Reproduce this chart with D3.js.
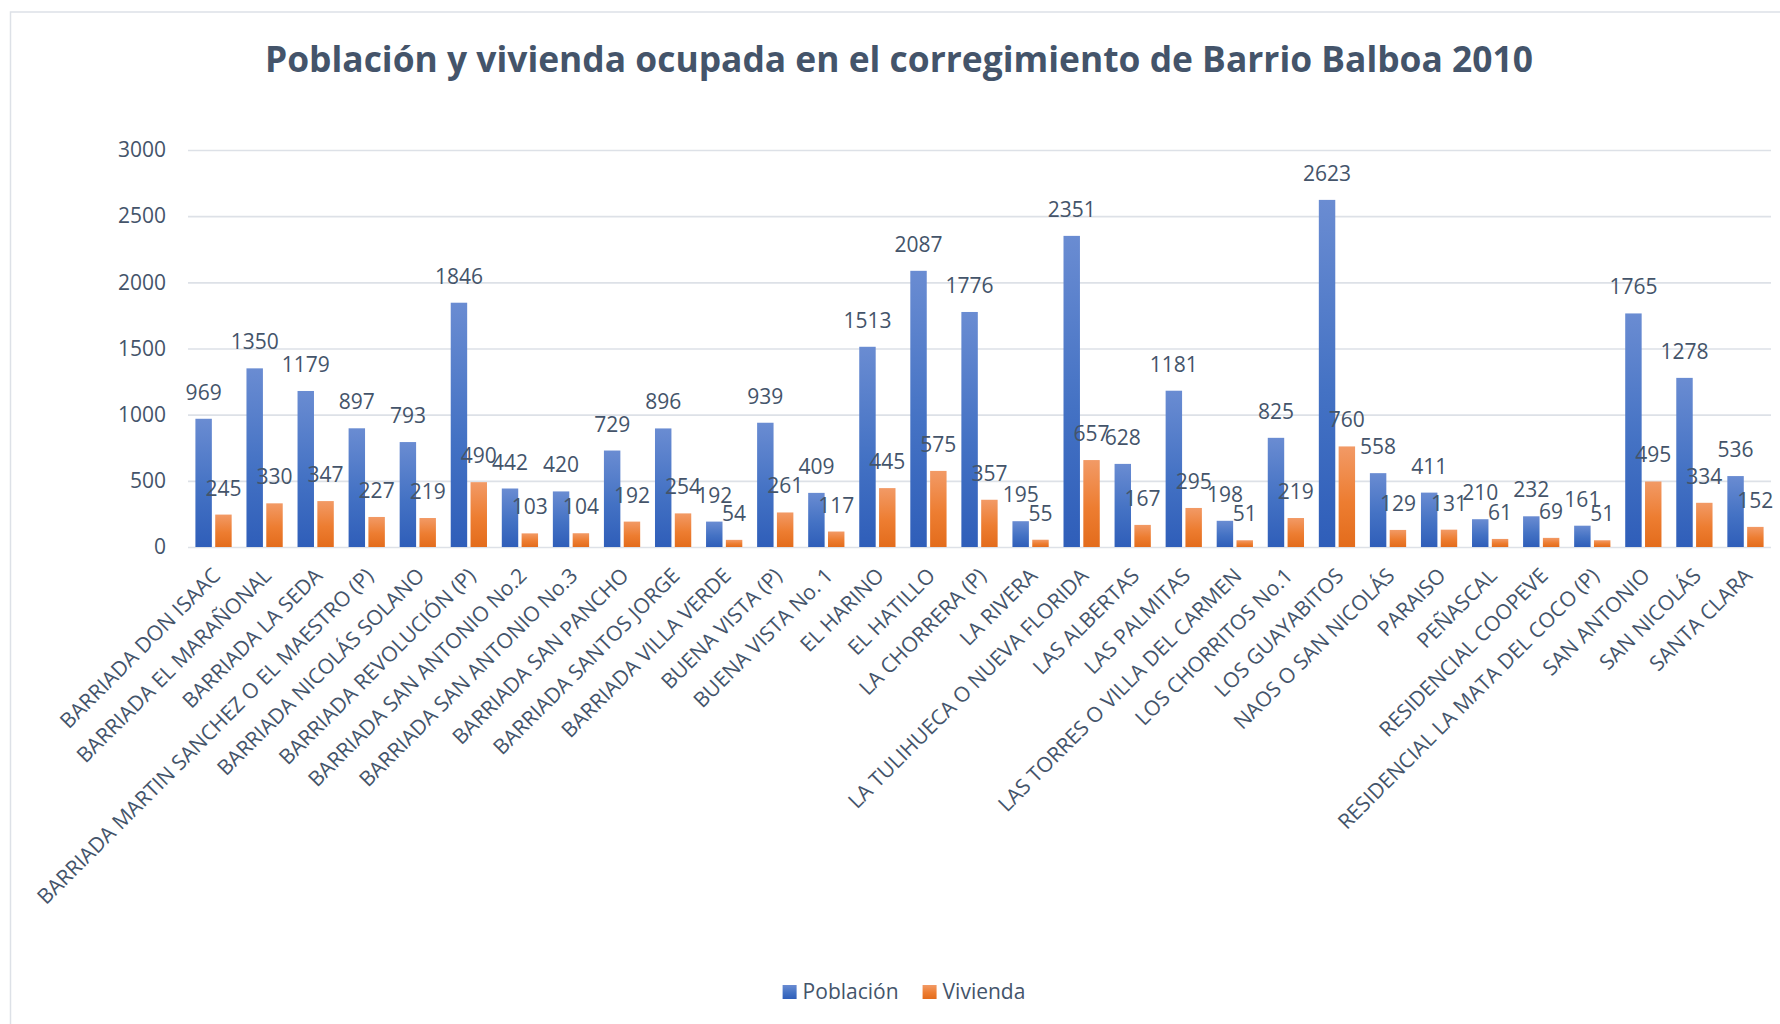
<!DOCTYPE html>
<html>
<head>
<meta charset="utf-8">
<script src="https://cdn.jsdelivr.net/npm/d3@7"></script>
<style>
  body { margin: 0; background: #fff; }
  text { font-family: "Open Sans", sans-serif; fill: #44546A; }
</style>
</head>
<body>
<svg id="chart" width="1780" height="1024"></svg>
<script>
var categories = [
  "BARRIADA DON ISAAC", "BARRIADA EL MARAÑONAL", "BARRIADA LA SEDA",
  "BARRIADA MARTIN SANCHEZ O EL MAESTRO (P)", "BARRIADA NICOLÁS SOLANO",
  "BARRIADA REVOLUCIÓN (P)", "BARRIADA SAN ANTONIO No.2", "BARRIADA SAN ANTONIO No.3",
  "BARRIADA SAN PANCHO", "BARRIADA SANTOS JORGE", "BARRIADA VILLA VERDE",
  "BUENA VISTA (P)", "BUENA VISTA No. 1", "EL HARINO", "EL HATILLO",
  "LA CHORRERA (P)", "LA RIVERA", "LA TULIHUECA O NUEVA FLORIDA", "LAS ALBERTAS",
  "LAS PALMITAS", "LAS TORRES O VILLA DEL CARMEN", "LOS CHORRITOS No.1",
  "LOS GUAYABITOS", "NAOS O SAN NICOLÁS", "PARAISO", "PEÑASCAL",
  "RESIDENCIAL COOPEVE", "RESIDENCIAL LA MATA DEL COCO (P)", "SAN ANTONIO",
  "SAN NICOLÁS", "SANTA CLARA"
];
var poblacion = [969, 1350, 1179, 897, 793, 1846, 442, 420, 729, 896, 192, 939, 409, 1513, 2087,
  1776, 195, 2351, 628, 1181, 198, 825, 2623, 558, 411, 210, 232, 161, 1765, 1278, 536];
var vivienda = [245, 330, 347, 227, 219, 490, 103, 104, 192, 254, 54, 261, 117, 445, 575,
  357, 55, 657, 167, 295, 51, 219, 760, 129, 131, 61, 69, 51, 495, 334, 152];
var yTicks = [0, 500, 1000, 1500, 2000, 2500, 3000];
var seriesNames = ["Población", "Vivienda"];
var title = "Población y vivienda ocupada en el corregimiento de Barrio Balboa 2010";

var svg = d3.select("#chart");
var plotLeft = 188, plotRight = 1771, plotTop = 150, plotBottom = 547;

// chart area border
svg.append("rect")
  .attr("x", 10.5).attr("y", 12)
  .attr("width", 1800).attr("height", 1100)
  .attr("fill", "none")
  .attr("stroke", "#DDE1E7")
  .attr("stroke-width", 1.5);

var defs = svg.append("defs");
var gradStops = [
  ["#6A8CD2", "#4472C4", "#2F5EB9"],
  ["#F29A66", "#ED7D31", "#E36C1C"]
];
gradStops.forEach(function(s, i) {
  var g = defs.append("linearGradient")
    .attr("id", "grad" + i)
    .attr("x1", 0).attr("y1", 0).attr("x2", 0).attr("y2", 1);
  g.append("stop").attr("offset", "0%").attr("stop-color", s[0]);
  g.append("stop").attr("offset", "55%").attr("stop-color", s[1]);
  g.append("stop").attr("offset", "100%").attr("stop-color", s[2]);
});

var x = d3.scaleBand()
  .domain(categories)
  .range([plotLeft, plotRight])
  .paddingInner(0.29)
  .paddingOuter(0.145);

var xSub = d3.scaleBand()
  .domain([0, 1])
  .range([0, x.bandwidth()])
  .paddingInner(0.17);

var y = d3.scaleLinear()
  .domain([0, 3000])
  .range([plotBottom, plotTop]);

// gridlines + y labels
var yAxis = svg.append("g")
  .attr("transform", "translate(" + plotLeft + ",0)")
  .call(d3.axisLeft(y).tickValues(yTicks).tickFormat(d3.format("d"))
    .tickSize(-(plotRight - plotLeft)).tickPadding(22));
yAxis.select(".domain").remove();
yAxis.selectAll(".tick line")
  .attr("stroke", "#DDE1E7")
  .attr("stroke-width", 1.6);
yAxis.selectAll(".tick text")
  .attr("font-size", 21)
  .attr("font-family", "Open Sans")
  .attr("fill", "#44546A");

// x labels
var xAxis = svg.append("g")
  .attr("transform", "translate(0," + plotBottom + ")")
  .call(d3.axisBottom(x).tickSize(0));
xAxis.select(".domain").remove();
xAxis.selectAll(".tick text")
  .attr("font-size", 21)
  .attr("font-family", "Open Sans")
  .attr("fill", "#44546A")
  .attr("text-anchor", "end")
  .attr("x", 0).attr("y", 0).attr("dy", null)
  .attr("transform", "translate(8,30) rotate(-45)");

var series = [poblacion, vivienda];

var groups = svg.selectAll(".cat")
  .data(categories)
  .enter()
  .append("g")
  .attr("class", "cat")
  .attr("transform", function(d) { return "translate(" + x(d) + ",0)"; });

groups.selectAll("rect")
  .data(function(d, i) { return series.map(function(s, k) { return {k: k, v: s[i]}; }); })
  .enter()
  .append("rect")
  .attr("x", function(d) { return xSub(d.k); })
  .attr("y", function(d) { return y(d.v); })
  .attr("width", xSub.bandwidth())
  .attr("height", function(d) { return y(0) - y(d.v); })
  .attr("fill", function(d) { return "url(#grad" + d.k + ")"; });

groups.selectAll("text.val")
  .data(function(d, i) { return series.map(function(s, k) { return {k: k, v: s[i]}; }); })
  .enter()
  .append("text")
  .attr("class", "val")
  .attr("x", function(d) { return xSub(d.k) + xSub.bandwidth() / 2; })
  .attr("y", function(d) { return y(d.v) - 19; })
  .attr("text-anchor", "middle")
  .attr("font-size", 21)
  .text(function(d) { return d.v; });

// title
svg.append("text")
  .attr("x", 899).attr("y", 72)
  .attr("text-anchor", "middle")
  .attr("font-size", 36)
  .attr("font-weight", "bold")
  .attr("textLength", 1268)
  .attr("lengthAdjust", "spacingAndGlyphs")
  .text(title);

// legend
var legend = svg.append("g");
var items = legend.selectAll("g")
  .data(seriesNames)
  .enter()
  .append("g");
items.append("rect")
  .attr("width", 14).attr("height", 14)
  .attr("y", -14)
  .attr("fill", function(d, i) { return "url(#grad" + i + ")"; });
items.append("text")
  .attr("x", 20)
  .attr("y", 0)
  .attr("font-size", 21)
  .text(function(d) { return d; });
var offset = 0;
items.each(function() {
  var w = this.getBBox().width;
  d3.select(this).attr("transform", "translate(" + offset + ",999)");
  offset += w + 24;
});
var total = offset - 24;
legend.attr("transform", "translate(" + (904 - total / 2) + ",0)");
</script>
</body>
</html>
